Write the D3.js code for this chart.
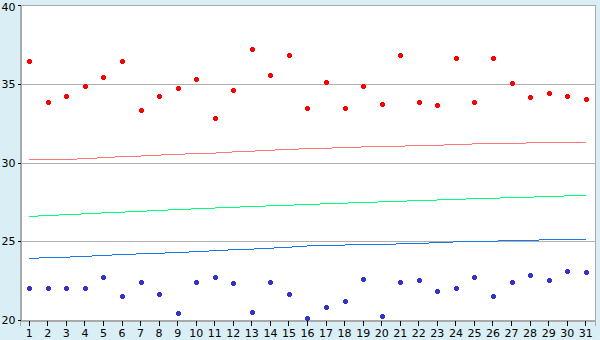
<!DOCTYPE html>
<html><head><meta charset="utf-8">
<script src="https://cdn.jsdelivr.net/npm/d3@7"></script>
<style>html,body{margin:0;padding:0;background:#d9eff5;}svg{display:block;}</style>
</head><body>
<svg id="c" width="600" height="340"></svg>
<script>
const days = d3.range(1, 32);
const yTicks = [20, 25, 30, 35, 40];
const redPoints = [36.43,33.82,34.20,34.84,35.41,36.43,33.33,34.20,34.71,35.28,32.81,34.58,37.19,35.53,36.80,33.44,35.09,33.44,34.84,33.69,36.80,33.82,33.63,36.61,33.82,36.61,35.03,34.14,34.39,34.20,34.01];
const bluePoints = [22.01,22.01,22.01,22.01,22.71,21.50,22.39,21.63,20.42,22.39,22.71,22.33,20.49,22.39,21.63,20.11,20.81,21.19,22.58,20.23,22.39,22.52,21.82,22.01,22.71,21.50,22.39,22.84,22.52,23.09,23.03];
const redLine = [30.16,30.17,30.20,30.24,30.31,30.37,30.41,30.47,30.52,30.57,30.60,30.67,30.72,30.78,30.83,30.88,30.91,30.94,30.99,31.02,31.04,31.07,31.10,31.13,31.18,31.21,31.23,31.24,31.26,31.27,31.28];
const greenLine = [26.58,26.63,26.69,26.74,26.80,26.85,26.90,26.96,27.01,27.06,27.11,27.16,27.20,27.25,27.29,27.33,27.38,27.42,27.46,27.50,27.54,27.58,27.62,27.66,27.70,27.73,27.77,27.80,27.84,27.88,27.92];
const blueLine = [23.92,23.95,23.99,24.04,24.10,24.16,24.20,24.24,24.28,24.34,24.40,24.46,24.50,24.56,24.62,24.70,24.74,24.76,24.79,24.81,24.83,24.86,24.91,24.96,24.99,25.01,25.03,25.06,25.10,25.12,25.12];

const L = 20, R = 595, T = 5, B = 320;
const FONT = 'DejaVu Sans, Verdana, sans-serif';
const svg = d3.select('#c');
const x = d3.scaleBand().domain(days).range([L, R]);
const xc = d => x(d) + x.bandwidth() / 2;
const y = d3.scaleLinear().domain([20, 40]).range([B, T]);

svg.append('rect').attr('x', L).attr('y', T).attr('width', R - L).attr('height', B - T).attr('fill', '#fff');

// grid
svg.append('g').selectAll('line').data(yTicks.filter(v => v > 20)).join('line')
  .attr('x1', L).attr('x2', R).attr('y1', d => Math.round(y(d)) + 0.5).attr('y2', d => Math.round(y(d)) + 0.5)
  .attr('stroke', '#b0b0b0').attr('stroke-width', 1).attr('shape-rendering', 'crispEdges');
// frame
svg.append('rect').attr('x', L + 0.5).attr('y', T + 0.5).attr('width', R - L).attr('height', B - T)
  .attr('fill', 'none').attr('stroke', '#aaaaaa').attr('shape-rendering', 'crispEdges');

// axes
const yAxis = d3.axisLeft(y).tickValues(yTicks).tickSize(3).tickPadding(2);
const gy = svg.append('g').attr('transform', `translate(${L + 0.5},0)`).call(yAxis);
gy.select('.domain').attr('stroke', '#aaaaaa');
gy.selectAll('.tick line').attr('stroke', '#000');
gy.selectAll('text').attr('font-family', FONT).attr('font-size', 11).attr('fill', '#000');
gy.selectAll('.tick').filter(d => d === 40).select('text').attr('dy', '0.5em');

const xAxis = d3.axisBottom(x).tickSize(5).tickPadding(4);
const gx = svg.append('g').attr('transform', `translate(0,${B + 0.5})`).call(xAxis);
gx.select('.domain').attr('stroke', '#aaaaaa');
gx.selectAll('.tick line').attr('stroke', '#000');
gx.selectAll('text').attr('font-family', FONT).attr('font-size', 11).attr('fill', '#000');
svg.selectAll('g').attr('shape-rendering', 'crispEdges');

// lines
const line = d3.line().x((d, i) => xc(days[i])).y(d => y(d));
[[redLine, '#ff7878'], [greenLine, '#00ff7a'], [blueLine, '#1a78e6']].forEach(([data, col]) => {
  svg.append('path').datum(data).attr('d', line).attr('fill', 'none').attr('stroke', col)
    .attr('stroke-width', 1).attr('shape-rendering', 'crispEdges');
});

// markers
function markers(data, col) {
  const g = svg.append('g').attr('fill', col).attr('shape-rendering', 'crispEdges');
  const pts = data.map((v, i) => [Math.round(xc(days[i])), Math.round(y(v))]);
  g.selectAll('rect.h').data(pts).join('rect').attr('class', 'h')
    .attr('x', d => d[0] - 2).attr('y', d => d[1] - 1).attr('width', 5).attr('height', 3);
  g.selectAll('rect.v').data(pts).join('rect').attr('class', 'v')
    .attr('x', d => d[0] - 1).attr('y', d => d[1] - 2).attr('width', 3).attr('height', 5);
}
markers(redPoints, '#ff0000');
markers(bluePoints, '#3333cc');
</script>
</body></html>
